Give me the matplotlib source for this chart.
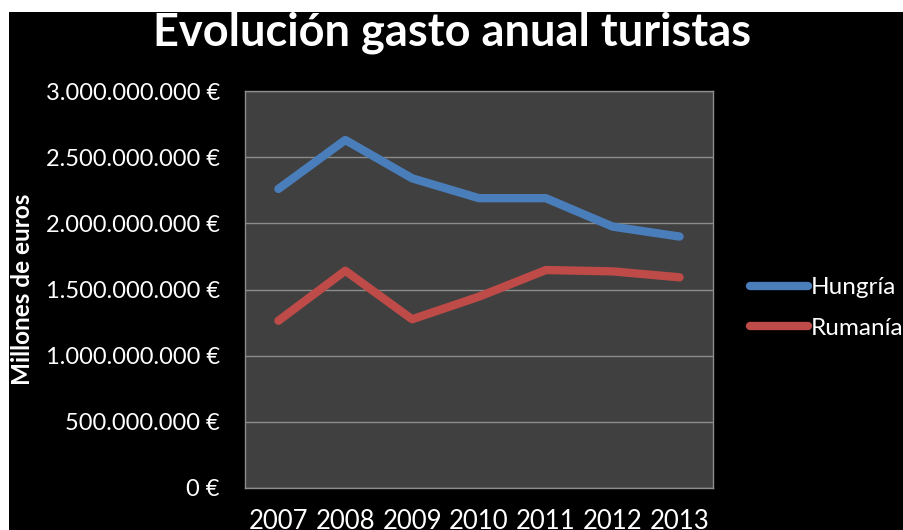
import matplotlib
matplotlib.use("Agg")
import matplotlib.pyplot as plt
from matplotlib.patches import Rectangle
from matplotlib.ticker import FuncFormatter

plt.rcParams["font.family"] = ["Lato", "DejaVu Sans"]

years = ["2007", "2008", "2009", "2010", "2011", "2012", "2013"]
hungria = [2.26e9, 2.63e9, 2.34e9, 2.19e9, 2.19e9, 1.975e9, 1.90e9]
rumania = [1.264e9, 1.642e9, 1.275e9, 1.446e9, 1.647e9, 1.637e9, 1.592e9]
y_ticks = [0, 0.5e9, 1.0e9, 1.5e9, 2.0e9, 2.5e9, 3.0e9]


def euros(v, pos):
    return f"{v:,.0f} €".replace(",", ".")


fig = plt.figure(figsize=(9.04, 5.30), dpi=100, facecolor="black")
# franjas blancas arriba e izquierda
fig.patches.append(Rectangle((0, 1 - 12 / 530), 1, 12 / 530, transform=fig.transFigure,
                             facecolor="white", edgecolor="none", zorder=-10))
fig.patches.append(Rectangle((0, 0), 9 / 904, 1, transform=fig.transFigure,
                             facecolor="white", edgecolor="none", zorder=-10))

ax = fig.add_axes([245 / 904, 42 / 530, 468 / 904, 397 / 530])
ax.set_facecolor("#404040")

x = range(len(years))
ax.plot(x, hungria, color="#4A7EBB", linewidth=6, solid_capstyle="round",
        solid_joinstyle="round", label="Hungría", zorder=3)
ax.plot(x, rumania, color="#BE4B48", linewidth=6, solid_capstyle="round",
        solid_joinstyle="round", label="Rumanía", zorder=3)

ax.set_xlim(-0.5, len(years) - 0.5)
ax.set_ylim(0, 3.0e9)
ax.set_yticks(y_ticks)
ax.yaxis.set_major_formatter(FuncFormatter(euros))
ax.set_xticks(list(x))
ax.set_xticklabels(years)
ax.grid(axis="y", color="#8c8c8c", linewidth=1)
ax.set_axisbelow(True)

for s in ax.spines.values():
    s.set_color("#8c8c8c")
    s.set_linewidth(1)

ax.tick_params(axis="both", length=0, colors="white")
ax.tick_params(axis="y", pad=18, labelsize=17)
ax.tick_params(axis="x", pad=15, labelsize=18.5)

ax.set_ylabel("Millones de euros", color="white", fontsize=17.5, fontweight="bold")
ax.yaxis.set_label_coords(-211 / 468, 0.5)

fig.text(452 / 904, 1 - 33 / 530, "Evolución gasto anual turistas", color="white",
         fontsize=32.5, fontweight="bold", ha="center", va="center")

leg = ax.legend(loc="center left", bbox_to_anchor=(750 / 904, 1 - 308 / 530),
                bbox_transform=fig.transFigure, frameon=False, fontsize=17.5,
                handlelength=2.4, handletextpad=0.1, labelspacing=0.8,
                borderpad=0, borderaxespad=0, labelcolor="white")

fig.savefig("out.png", dpi=100, facecolor="black")
